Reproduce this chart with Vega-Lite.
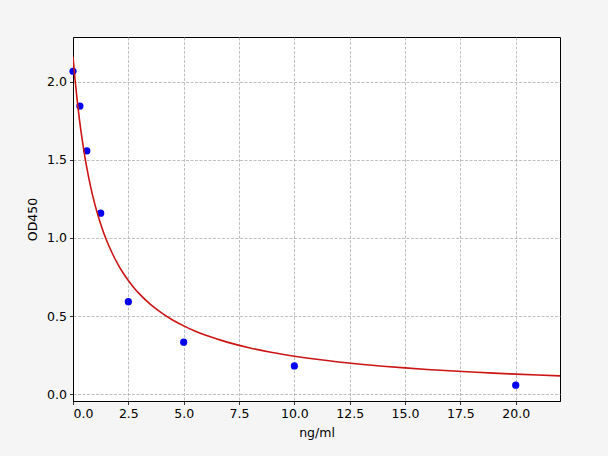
{
  "$schema": "https://vega.github.io/schema/vega-lite/v6.json",
  "autosize": "none",
  "padding": {"left": 73, "top": 37, "right": 48, "bottom": 55},
  "width": 487,
  "height": 364,
  "background": "#f5f5f5",
  "datasets": {
    "points": [
      {"conc": 0, "od": 2.066},
      {"conc": 0.3125, "od": 1.843},
      {"conc": 0.625, "od": 1.557},
      {"conc": 1.25, "od": 1.158},
      {"conc": 2.5, "od": 0.592},
      {"conc": 5, "od": 0.333},
      {"conc": 10, "od": 0.181},
      {"conc": 20, "od": 0.058}
    ],
    "curve": [
      {"conc": 0, "od": 2.16},
      {"conc": 0.05, "od": 2.078},
      {"conc": 0.1, "od": 2.002},
      {"conc": 0.2, "od": 1.866},
      {"conc": 0.3, "od": 1.747},
      {"conc": 0.4, "od": 1.643},
      {"conc": 0.5, "od": 1.55},
      {"conc": 0.6, "od": 1.467},
      {"conc": 0.8, "od": 1.325},
      {"conc": 1.0, "od": 1.208},
      {"conc": 1.2, "od": 1.111},
      {"conc": 1.4, "od": 1.027},
      {"conc": 1.6, "od": 0.956},
      {"conc": 1.8, "od": 0.894},
      {"conc": 2.0, "od": 0.839},
      {"conc": 2.25, "od": 0.779},
      {"conc": 2.5, "od": 0.728},
      {"conc": 2.75, "od": 0.682},
      {"conc": 3.0, "od": 0.642},
      {"conc": 3.5, "od": 0.575},
      {"conc": 4.0, "od": 0.521},
      {"conc": 4.5, "od": 0.475},
      {"conc": 5.0, "od": 0.4375},
      {"conc": 5.5, "od": 0.405},
      {"conc": 6.0, "od": 0.377},
      {"conc": 7.0, "od": 0.332},
      {"conc": 8.0, "od": 0.296},
      {"conc": 9.0, "od": 0.267},
      {"conc": 10.0, "od": 0.2434},
      {"conc": 11.0, "od": 0.2236},
      {"conc": 12.0, "od": 0.2067},
      {"conc": 13.0, "od": 0.1922},
      {"conc": 14.0, "od": 0.1796},
      {"conc": 15.0, "od": 0.1686},
      {"conc": 16.0, "od": 0.1588},
      {"conc": 17.0, "od": 0.1501},
      {"conc": 18.0, "od": 0.1424},
      {"conc": 19.0, "od": 0.1353},
      {"conc": 20.0, "od": 0.129},
      {"conc": 21.0, "od": 0.1232},
      {"conc": 22.0, "od": 0.1179}
    ]
  },
  "encoding": {
    "x": {
      "field": "conc",
      "type": "quantitative",
      "scale": {"domain": [0, 22], "nice": false, "zero": false},
      "axis": {
        "title": "ng/ml",
        "values": [0, 2.5, 5, 7.5, 10, 12.5, 15, 17.5, 20],
        "format": ".1f",
        "titlePadding": 6
      }
    },
    "y": {
      "field": "od",
      "type": "quantitative",
      "scale": {"domain": [-0.043, 2.285], "nice": false, "zero": false},
      "axis": {
        "title": "OD450",
        "values": [0, 0.5, 1, 1.5, 2],
        "format": ".1f",
        "titlePadding": 7
      }
    }
  },
  "layer": [
    {
      "data": {"name": "points"},
      "mark": {"type": "circle", "size": 52, "color": "#0000ee", "opacity": 1}
    },
    {
      "data": {"name": "curve"},
      "mark": {"type": "line", "color": "#cc1414", "strokeWidth": 1.6, "interpolate": "monotone", "clip": true}
    }
  ],
  "config": {
    "font": "DejaVu Sans",
    "view": {"fill": "white", "stroke": "black", "strokeWidth": 1},
    "axis": {
      "domain": true,
      "domainColor": "black",
      "domainWidth": 1,
      "grid": true,
      "gridColor": "#b0b0b0",
      "gridDash": [3, 1.5],
      "gridWidth": 0.8,
      "tickColor": "black",
      "tickSize": 3.5,
      "tickWidth": 0.8,
      "labelColor": "black",
      "labelFont": "DejaVu Sans",
      "labelFontSize": 12.5,
      "labelPadding": 3,
      "titleColor": "black",
      "titleFont": "DejaVu Sans",
      "titleFontSize": 12.5,
      "titleFontWeight": "normal"
    }
  }
}
